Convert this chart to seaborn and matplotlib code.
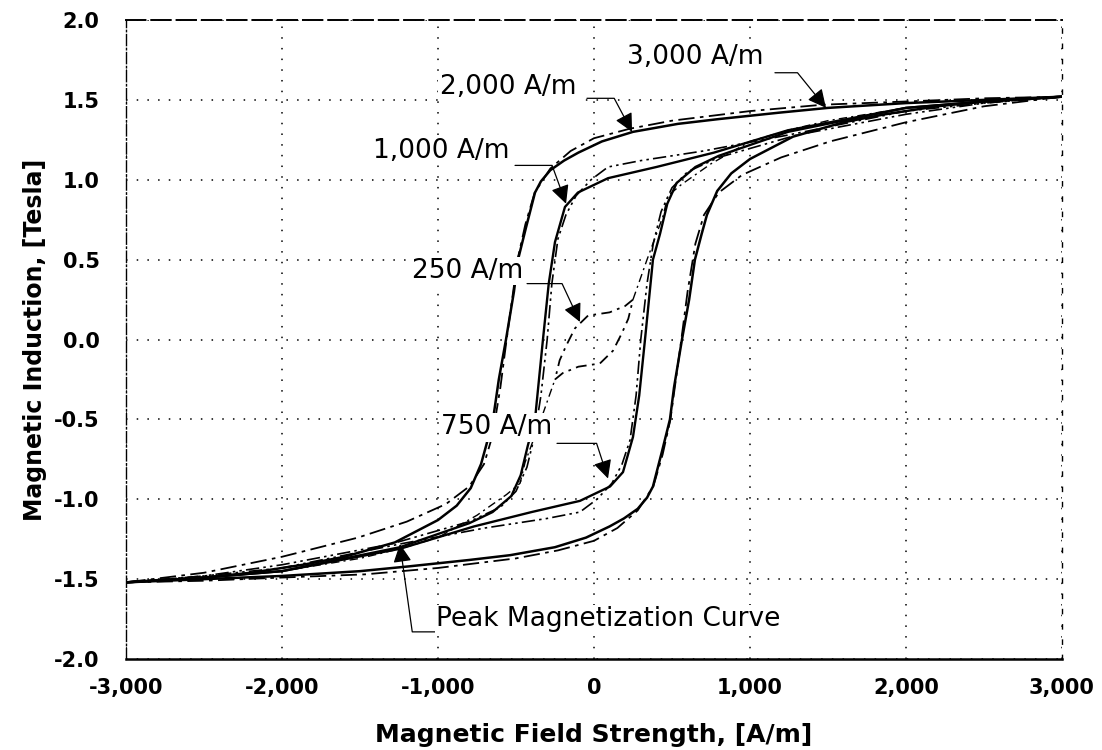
import matplotlib
matplotlib.use("Agg")
import matplotlib.pyplot as plt
import seaborn as sns
from matplotlib.ticker import FixedLocator, FuncFormatter

sns.set_theme(style="white")
plt.rcParams['font.family'] = ['DejaVu Sans']

# ---- Hysteresis data: field strength H [A/m] and induction B [T] ----
# 3,000 A/m loop (solid)
h_3000_up = [-3000, -2500, -2000, -1500, -1186, -800, -538, -250, -51, 100, 192, 280, 340, 378,
             436, 487, 513, 564, 610, 647, 690, 724, 790, 880, 1000, 1276, 1600, 1865, 2200, 2500, 3000]
b_3000_up = [-1.52, -1.50, -1.48, -1.45, -1.42, -1.38, -1.35, -1.30, -1.24, -1.17, -1.12, -1.06, -0.99, -0.92,
             -0.70, -0.50, -0.30, 0.00, 0.25, 0.50, 0.66, 0.78, 0.93, 1.04, 1.13, 1.27, 1.36, 1.41, 1.46, 1.49, 1.52]
h_3000_dn = [3000, 2500, 2000, 1500, 1186, 800, 538, 250, 51, -100, -192, -280, -340, -378,
             -436, -487, -513, -564, -610, -647, -690, -724, -790, -880, -1000, -1276, -1600, -1865, -2200, -2500, -3000]
b_3000_dn = [1.52, 1.50, 1.48, 1.45, 1.42, 1.38, 1.35, 1.30, 1.24, 1.17, 1.12, 1.06, 0.99, 0.92,
             0.70, 0.50, 0.30, 0.00, -0.25, -0.50, -0.66, -0.78, -0.93, -1.04, -1.13, -1.27, -1.36, -1.41, -1.46, -1.49, -1.52]

# 2,000 A/m loop (long dash - dot)
h_2000_dn = [3000, 2500, 2000, 1468, 1000, 500, 231, 0, -150, -280, -380, -440, -490, -525, -560,
             -600, -650, -705, -800, -949, -1200, -1513, -2000, -2500, -3000]
b_2000_dn = [1.52, 1.51, 1.49, 1.47, 1.43, 1.37, 1.32, 1.26, 1.18, 1.07, 0.92, 0.72, 0.50, 0.25, 0.00,
             -0.30, -0.60, -0.78, -0.92, -1.03, -1.14, -1.24, -1.36, -1.46, -1.52]
h_2000_up = [-3000, -2500, -2000, -1468, -1000, -500, -231, 0, 150, 280, 380, 440, 490, 525, 560,
             600, 650, 705, 800, 949, 1200, 1513, 2000, 2500, 3000]
b_2000_up = [-1.52, -1.51, -1.49, -1.47, -1.43, -1.37, -1.32, -1.26, -1.18, -1.07, -0.92, -0.72, -0.50, -0.25, 0.00,
             0.30, 0.60, 0.78, 0.92, 1.03, 1.14, 1.24, 1.36, 1.46, 1.52]

# 1,000 A/m loop (dash - dot - dot)
h_1000_up = [-3000, -2500, -2000, -1244, -700, -300, -90, 19, 115, 180, 231, 270, 300, 340, 380,
             430, 500, 600, 800, 1300, 2000, 2500, 3000]
b_1000_up = [-1.52, -1.48, -1.43, -1.28, -1.18, -1.12, -1.08, -1.00, -0.90, -0.78, -0.63, -0.35, 0.00, 0.35, 0.60,
             0.80, 0.95, 1.05, 1.14, 1.28, 1.41, 1.48, 1.52]
h_1000_dn = [3000, 2500, 2000, 1244, 700, 300, 90, -19, -115, -180, -231, -270, -300, -340, -380,
             -430, -500, -600, -800, -1300, -2000, -2500, -3000]
b_1000_dn = [1.52, 1.48, 1.43, 1.28, 1.18, 1.12, 1.08, 1.00, 0.90, 0.78, 0.63, 0.35, 0.00, -0.35, -0.60,
             -0.80, -0.95, -1.05, -1.14, -1.28, -1.41, -1.48, -1.52]

# 750 A/m loop (solid)
h_750_up = [-3000, -2500, -2000, -1244, -769, -400, -90, 103, 186, 250, 290, 327, 378, 423, 470, 530,
            650, 800, 1244, 2000, 2500, 3000]
b_750_up = [-1.52, -1.49, -1.45, -1.31, -1.17, -1.08, -1.01, -0.92, -0.83, -0.61, -0.35, 0.00, 0.50, 0.66, 0.85, 0.98,
            1.08, 1.15, 1.30, 1.45, 1.49, 1.52]
h_750_dn = [3000, 2500, 2000, 1244, 769, 400, 90, -103, -186, -250, -290, -327, -378, -423, -470, -530,
            -650, -800, -1244, -2000, -2500, -3000]
b_750_dn = [1.52, 1.49, 1.45, 1.31, 1.17, 1.08, 1.01, 0.92, 0.83, 0.61, 0.35, 0.00, -0.50, -0.66, -0.85, -0.98,
            -1.08, -1.15, -1.30, -1.45, -1.49, -1.52]

# 250 A/m minor loop (dash - dot)
h_250_up = [-250, -200, -100, 38, 122, 179, 220, 250]
b_250_up = [-0.25, -0.21, -0.17, -0.15, -0.07, 0.04, 0.13, 0.25]
h_250_dn = [250, 200, 100, -38, -122, -179, -220, -250]
b_250_dn = [0.25, 0.21, 0.17, 0.15, 0.07, -0.04, -0.13, -0.25]

# Peak magnetization curve through the loop tips
h_peak_neg = [-3000, -2500, -2000, -1500, -1244, -1000, -750, -560, -474, -442, -340, -250]
b_peak_neg = [-1.52, -1.49, -1.45, -1.37, -1.31, -1.24, -1.10, -0.97, -0.90, -0.77, -0.50, -0.25]
h_peak_pos = [250, 340, 442, 474, 560, 750, 1000, 1244, 1500, 2000, 2500, 3000]
b_peak_pos = [0.25, 0.50, 0.77, 0.90, 0.97, 1.10, 1.24, 1.31, 1.37, 1.45, 1.49, 1.52]

x_ticks = [-3000, -2000, -1000, 0, 1000, 2000, 3000]
y_ticks = [-2.0, -1.5, -1.0, -0.5, 0.0, 0.5, 1.0, 1.5, 2.0]

SOLID = '-'
LONG_DASH_DOT = (0, (9, 3, 2, 3))
DASH_DOT_DOT = (0, (8, 2.5, 1.5, 2.5, 1.5, 2.5))
DASH_DOT = (0, (6, 3, 1.5, 3))

curves = [
    (h_3000_up, b_3000_up, SOLID, 1.8),
    (h_3000_dn, b_3000_dn, SOLID, 1.8),
    (h_2000_up, b_2000_up, LONG_DASH_DOT, 1.3),
    (h_2000_dn, b_2000_dn, LONG_DASH_DOT, 1.3),
    (h_1000_up, b_1000_up, DASH_DOT_DOT, 1.2),
    (h_1000_dn, b_1000_dn, DASH_DOT_DOT, 1.2),
    (h_750_up, b_750_up, SOLID, 1.7),
    (h_750_dn, b_750_dn, SOLID, 1.7),
    (h_250_up, b_250_up, DASH_DOT, 1.3),
    (h_250_dn, b_250_dn, DASH_DOT, 1.3),
    (h_peak_neg, b_peak_neg, DASH_DOT, 1.0),
    (h_peak_pos, b_peak_pos, DASH_DOT, 1.0),
]

fig, ax = plt.subplots(figsize=(11.02, 7.5), dpi=100)
fig.subplots_adjust(left=0.1143, right=0.9637, top=0.9733, bottom=0.1213)

for h, b, ls, lw in curves:
    sns.lineplot(x=h, y=b, ax=ax, sort=False, estimator=None, color='black',
                 linestyle=ls, linewidth=lw, zorder=3)

ax.set_xlim(-3000, 3000)
ax.set_ylim(-2.0, 2.0)
ax.xaxis.set_major_locator(FixedLocator(x_ticks))
ax.yaxis.set_major_locator(FixedLocator(y_ticks))
ax.xaxis.set_major_formatter(FuncFormatter(lambda v, p: f"{v:,.0f}"))
ax.yaxis.set_major_formatter(FuncFormatter(lambda v, p: f"{v:.1f}"))
ax.tick_params(axis='both', length=0, labelsize=15, colors='black')
ax.tick_params(axis='y', pad=19)
ax.tick_params(axis='x', pad=14)
for lab in ax.get_xticklabels() + ax.get_yticklabels():
    lab.set_fontweight('bold')

ax.grid(True, color='black', linestyle=(0, (1, 6)), linewidth=1.1)
ax.set_axisbelow(True)

ax.spines['bottom'].set_linewidth(1.8)
ax.spines['bottom'].set_color('black')
ax.spines['top'].set_linestyle((0, (10, 3)))
ax.spines['top'].set_linewidth(1.4)
ax.spines['top'].set_color('black')
ax.spines['right'].set_linestyle((0, (3, 8)))
ax.spines['right'].set_linewidth(1.0)
ax.spines['right'].set_color('black')
ax.spines['left'].set_linestyle((0, (8, 2, 1, 2)))
ax.spines['left'].set_linewidth(1.0)
ax.spines['left'].set_color('black')

ax.set_xlabel("Magnetic Field Strength, [A/m]", fontsize=18, fontweight='bold', color='black',
              labelpad=18)
ax.set_ylabel("Magnetic Induction, [Tesla]", fontsize=17, fontweight='bold', color='black',
              labelpad=5)

# Labels with leader arrows
label_box = dict(facecolor='white', edgecolor='none', pad=1.0)
arrow_kw = dict(arrowstyle='-|>,head_length=0.8,head_width=0.4', color='black', lw=0.9,
                mutation_scale=14, shrinkA=0, shrinkB=0)

notes = [
    # text, text pos, leader start, arrow tip, final leader angle
    ("3,000 A/m", (647, 1.77), (1160, 1.67), (1487, 1.45), -51),
    ("2,000 A/m", (-551, 1.58), (-45, 1.51), (244, 1.30), -62),
    ("1,000 A/m", (-981, 1.18), (-506, 1.09), (-179, 0.85), -70),
    ("250 A/m", (-808, 0.43), (-429, 0.35), (-90, 0.11), -65),
    ("750 A/m", (-622, -0.55), (-237, -0.65), (90, -0.87), -72),
]
for txt, tpos, start, tip, ang in notes:
    ax.text(tpos[0], tpos[1], txt, fontsize=19, ha='center', va='center', color='black',
            bbox=label_box, zorder=6)
    ax.annotate('', xy=tip, xytext=start, zorder=5,
                arrowprops=dict(connectionstyle=f"angle,angleA=0,angleB={ang},rad=0", **arrow_kw))

ax.text(-1013, -1.75, "Peak Magnetization Curve", fontsize=19, ha='left', va='center',
        color='black', bbox=label_box, zorder=6)
ax.annotate('', xy=(-1244, -1.28), xytext=(-962, -1.83), zorder=5,
            arrowprops=dict(connectionstyle="angle,angleA=0,angleB=98,rad=0", **arrow_kw))

fig.savefig("out.png", dpi=100, facecolor='white')
